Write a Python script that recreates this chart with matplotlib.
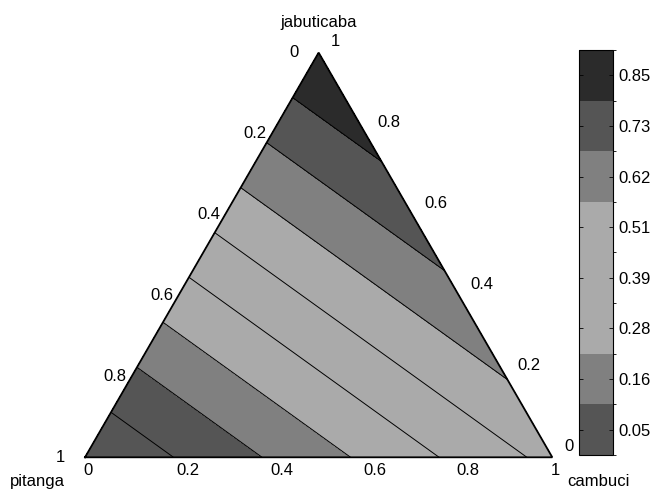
import numpy as np
import matplotlib
matplotlib.use('Agg')
import matplotlib.pyplot as plt
import matplotlib.tri as mtri
from matplotlib.colors import ListedColormap, BoundaryNorm
from matplotlib.colorbar import ColorbarBase

plt.rcParams['font.family'] = ['Liberation Sans', 'DejaVu Sans']

# ---- data: corner compositions and the value at each corner ----
pitanga = [1.0, 0.0, 0.0]
jabuticaba = [0.0, 1.0, 0.0]
cambuci = [0.0, 0.0, 1.0]
values = [-0.066, 0.968, 0.541]

# contour levels and colorbar labels
levels = [0.049, 0.164, 0.279, 0.394, 0.508, 0.623, 0.738, 0.853]
level_labels = ['0.05', '0.16', '0.28', '0.39', '0.51', '0.62', '0.73', '0.85']
band_colors = ['#555555', '#808080', '#aaaaaa', '#aaaaaa', '#aaaaaa',
               '#808080', '#555555', '#2b2b2b']

tick_values = [0.0, 0.2, 0.4, 0.6, 0.8, 1.0]
tick_labels = ['0', '0.2', '0.4', '0.6', '0.8', '1']
axis_names = ['pitanga', 'jabuticaba', 'cambuci']

H = np.sqrt(3) / 2
FS = 12

fig = plt.figure(figsize=(6.55, 4.9), dpi=100)
W, HH = 655.0, 490.0
ax = fig.add_axes([85 / W, (HH - 457.3) / HH, 467.3 / W, 404.7 / HH])
ax.set_xlim(0, 1)
ax.set_ylim(0, H)
ax.axis('off')

j = np.array(jabuticaba)
c = np.array(cambuci)
x = c + j / 2
y = j * H
tri = mtri.Triangulation(x, y, triangles=[[0, 1, 2]])

fill_levels = [min(values) - 1] + levels + [max(values) + 1]
fill_colors = [band_colors[0]] + band_colors
ax.tricontourf(tri, values, levels=fill_levels, colors=fill_colors, antialiased=False)
ax.tricontour(tri, values, levels=levels, colors='k', linewidths=0.7)

ax.plot([0, 1, 0.5, 0], [0, 0, H, 0], color='k', lw=1.3, clip_on=False,
        solid_joinstyle='miter')

# left edge: pitanga (0 at top, 1 at bottom)
for t, lab in zip(tick_values, tick_labels):
    px, py = (1 - t) / 2, (1 - t) * H
    dx = -20 if t in (0.0, 1.0) else -5
    ax.annotate(lab, (px, py), xytext=(dx, 0), textcoords='offset pixels',
                ha='right', va='center', fontsize=FS, annotation_clip=False)
# bottom edge: cambuci
for t, lab in zip(tick_values, tick_labels):
    ax.annotate(lab, (t, 0), xytext=(-2, -6), textcoords='offset pixels',
                ha='left', va='top', fontsize=FS, annotation_clip=False)
# right edge: jabuticaba
for t, lab in zip(tick_values, tick_labels):
    px, py = 1 - t / 2, t * H
    ax.annotate(lab, (px, py), xytext=(12, 11), textcoords='offset pixels',
                ha='left', va='center', fontsize=FS, annotation_clip=False)

ax.annotate(axis_names[1], (0.5, H), xytext=(0, 30), textcoords='offset pixels',
            ha='center', va='center', fontsize=FS, annotation_clip=False)
ax.annotate(axis_names[0], (0, 0), xytext=(-48, -24), textcoords='offset pixels',
            ha='center', va='center', fontsize=FS, annotation_clip=False)
ax.annotate(axis_names[2], (1, 0), xytext=(46, -24), textcoords='offset pixels',
            ha='center', va='center', fontsize=FS, annotation_clip=False)

# colorbar
cax = fig.add_axes([579 / W, (HH - 455) / HH, 34 / W, 405 / HH])
nb = len(band_colors)
cb = ColorbarBase(cax, cmap=ListedColormap(band_colors),
                  norm=BoundaryNorm(np.arange(nb + 1), nb),
                  ticks=np.arange(nb) + 0.5, orientation='vertical')
cb.set_ticklabels(level_labels)
cb.outline.set_linewidth(0.8)
cax.tick_params(direction='in', left=True, right=True, length=3, width=0.6,
                labelsize=FS, pad=4)

fig.savefig('out.png', dpi=100)
